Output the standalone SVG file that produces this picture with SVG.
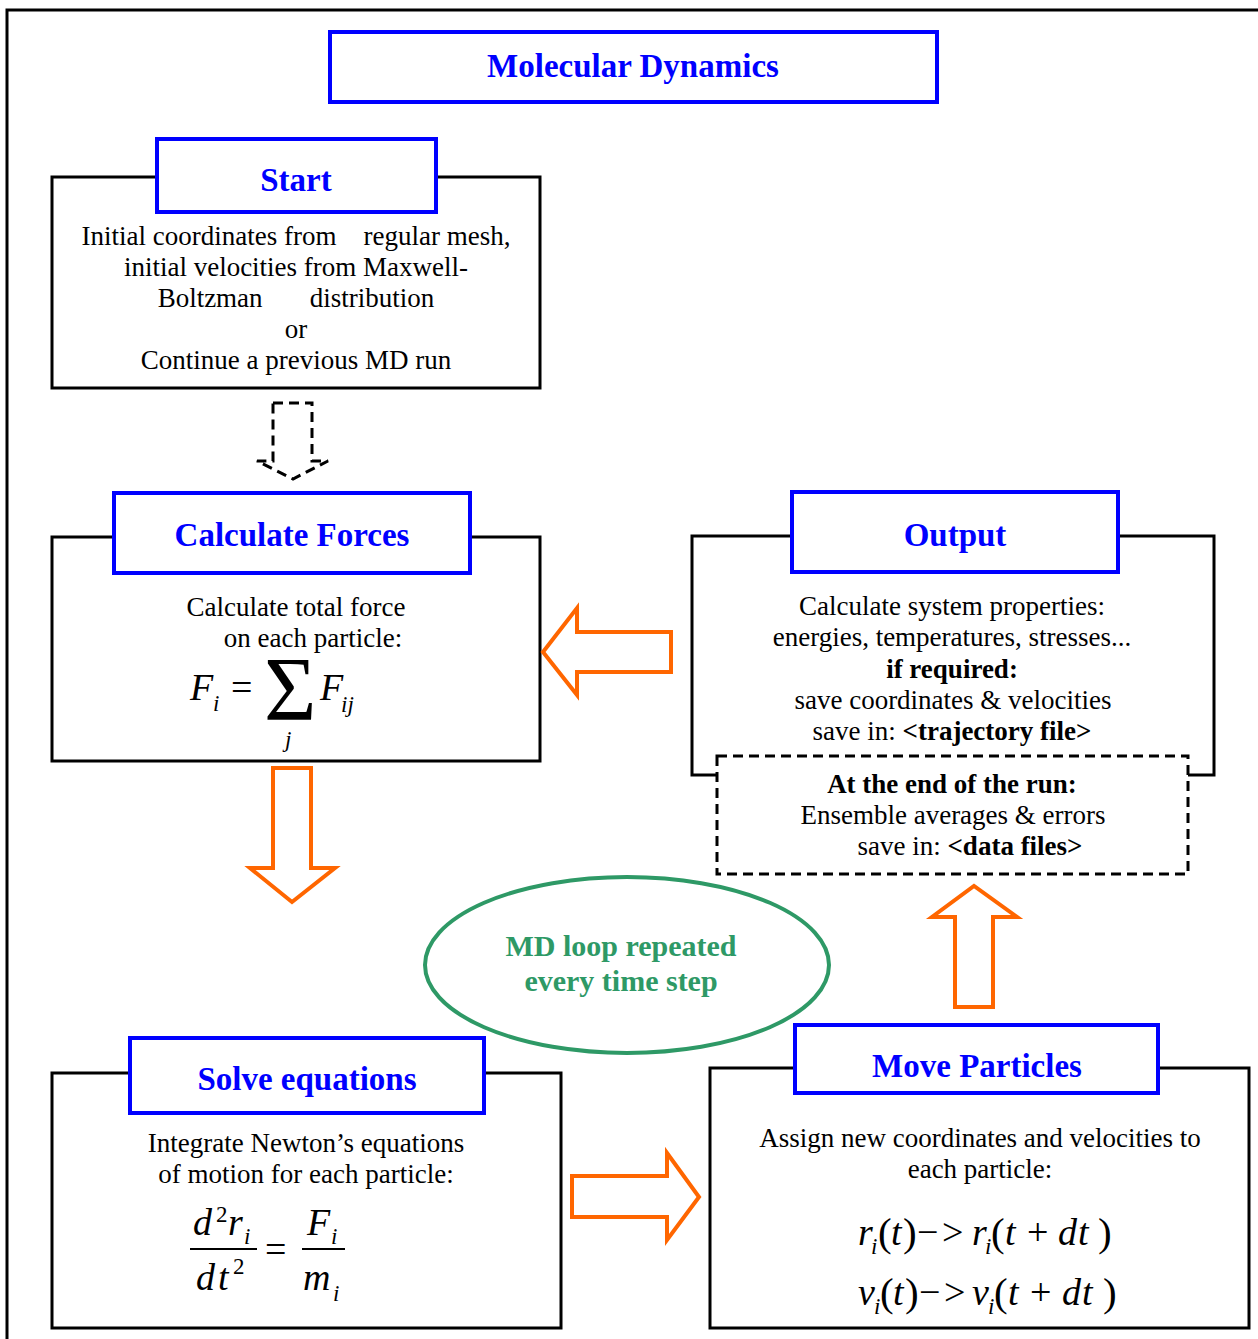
<svg xmlns="http://www.w3.org/2000/svg" width="1258" height="1339" viewBox="0 0 1258 1339">
<style>
text{font-family:"Liberation Serif","Times New Roman",serif;fill:#000}
.box{fill:#fff;stroke:#000;stroke-width:3}
.lbl{fill:#fff;stroke:#0000FF;stroke-width:4}
.h{font-size:33px;font-weight:bold;fill:#0000FF;text-anchor:middle}
.t{font-size:27px;text-anchor:middle}
.b{font-weight:bold}
.arr{fill:#fff;stroke:#FF6600;stroke-width:4;stroke-linejoin:miter}
.dash{fill:#fff;stroke:#000;stroke-width:3;stroke-dasharray:10 6}
.mi{font-size:38px;font-style:italic}
.mr{font-size:38px}
.mp{font-size:41px}
.ms{font-size:23px;font-style:italic}
.frac{stroke:#000;stroke-width:2}
.g{font-size:30px;font-weight:bold;fill:#2E9966;text-anchor:middle}
</style>
<rect width="1258" height="1339" fill="#fff"/>
<path d="M7,1339 V10 H1258" fill="none" stroke="#000" stroke-width="3"/>

<g id="title">
<rect class="lbl" x="330" y="32" width="607" height="70"/>
<text class="h" x="633" y="77">Molecular Dynamics</text>
</g>

<g id="start">
<rect class="box" x="52" y="177" width="488" height="211"/>
<rect class="lbl" x="157" y="139" width="279" height="73"/>
<text class="h" x="296" y="191">Start</text>
<text class="t" x="296" y="245" xml:space="preserve">Initial coordinates from    regular mesh,</text>
<text class="t" x="296" y="276">initial velocities from Maxwell-</text>
<text class="t" x="296" y="307" xml:space="preserve">Boltzman       distribution</text>
<text class="t" x="296" y="338">or</text>
<text class="t" x="296" y="369">Continue a previous MD run</text>
</g>

<g id="forces">
<rect class="box" x="52" y="537" width="488" height="224"/>
<rect class="lbl" x="114" y="493" width="356" height="80"/>
<text class="h" x="292" y="546">Calculate Forces</text>
<text class="t" x="296" y="616">Calculate total force</text>
<text class="t" x="313" y="647">on each particle:</text>
<text class="mi" x="190" y="700">F</text>
<text class="ms" x="213" y="711">i</text>
<text class="mr" x="231" y="700">=</text>
<text x="264" y="720" font-size="90">Σ</text>
<text class="ms" x="285" y="747">j</text>
<text class="mi" x="320" y="700">F</text>
<text class="ms" x="341" y="712">ij</text>
</g>

<g id="output">
<rect class="box" x="692" y="536" width="522" height="239"/>
<rect class="lbl" x="792" y="492" width="326" height="80"/>
<text class="h" x="955" y="546">Output</text>
<text class="t" x="952" y="615">Calculate system properties:</text>
<text class="t" x="952" y="646">energies, temperatures, stresses...</text>
<text class="t b" x="952" y="678">if required:</text>
<text class="t" x="953" y="709">save coordinates &amp; velocities</text>
<text class="t" x="952" y="740">save in: <tspan class="b">&lt;trajectory file&gt;</tspan></text>
</g>

<g id="endrun">
<rect class="dash" x="717" y="756" width="471" height="118"/>
<text class="t b" x="952" y="793">At the end of the run:</text>
<text class="t" x="953" y="824">Ensemble averages &amp; errors</text>
<text class="t" x="970" y="855">save in: <tspan class="b">&lt;data files&gt;</tspan></text>
</g>

<g id="loop">
<ellipse cx="627" cy="965" rx="202" ry="88" fill="none" stroke="#2E9966" stroke-width="4"/>
<text class="g" x="621" y="956">MD loop repeated</text>
<text class="g" x="621" y="991">every time step</text>
</g>

<g id="solve">
<rect class="box" x="52" y="1073" width="509" height="255"/>
<rect class="lbl" x="130" y="1038" width="354" height="75"/>
<text class="h" x="307" y="1090">Solve equations</text>
<text class="t" x="306" y="1152">Integrate Newton’s equations</text>
<text class="t" x="306" y="1183">of motion for each particle:</text>
<text class="mi" x="193" y="1235">d</text>
<text x="216" y="1222" font-size="23">2</text>
<text class="mi" x="228" y="1235">r</text>
<text class="ms" x="244" y="1244">i</text>
<line class="frac" x1="190" y1="1249" x2="257" y2="1249"/>
<text class="mi" x="196" y="1290">d</text>
<text class="mi" x="218" y="1290">t</text>
<text x="233" y="1274" font-size="23">2</text>
<text class="mr" x="265" y="1262">=</text>
<text class="mi" x="307" y="1235">F</text>
<text class="ms" x="331" y="1244">i</text>
<line class="frac" x1="302" y1="1249" x2="345" y2="1249"/>
<text class="mi" x="303" y="1290">m</text>
<text class="ms" x="333" y="1301">i</text>
</g>

<g id="move">
<rect class="box" x="710" y="1068" width="539" height="260"/>
<rect class="lbl" x="795" y="1025" width="363" height="68"/>
<text class="h" x="977" y="1077">Move Particles</text>
<text class="t" x="980" y="1147">Assign new coordinates and velocities to</text>
<text class="t" x="980" y="1178">each particle:</text>
<text class="mi" x="858" y="1245">r</text>
<text class="ms" x="871" y="1254">i</text>
<text class="mp" x="878" y="1246">(</text>
<text class="mi" x="891" y="1245">t</text>
<text class="mp" x="903" y="1246">)</text>
<text class="mr" x="917" y="1245">−</text>
<text class="mr" x="942" y="1245">&gt;</text>
<text class="mi" x="972" y="1245">r</text>
<text class="ms" x="985" y="1254">i</text>
<text class="mp" x="991" y="1246">(</text>
<text class="mi" x="1005" y="1245">t</text>
<text class="mr" x="1027" y="1245">+</text>
<text class="mi" x="1058" y="1245">d</text>
<text class="mi" x="1078" y="1245">t</text>
<text class="mp" x="1098" y="1246">)</text>
<text class="mi" x="858" y="1305">v</text>
<text class="ms" x="874" y="1314">i</text>
<text class="mp" x="880" y="1306">(</text>
<text class="mi" x="893" y="1305">t</text>
<text class="mp" x="905" y="1306">)</text>
<text class="mr" x="919" y="1305">−</text>
<text class="mr" x="944" y="1305">&gt;</text>
<text class="mi" x="972" y="1305">v</text>
<text class="ms" x="988" y="1314">i</text>
<text class="mp" x="994" y="1306">(</text>
<text class="mi" x="1008" y="1305">t</text>
<text class="mr" x="1030" y="1305">+</text>
<text class="mi" x="1062" y="1305">d</text>
<text class="mi" x="1082" y="1305">t</text>
<text class="mp" x="1103" y="1306">)</text>
</g>

<g id="connectors">
<path class="dash" d="M273,403 H312 V461 H328 L293,479 L257,461 H273 Z" fill="none"/>
<path class="arr" d="M671,632 H577 V608 L543,652 L577,695 V672 H671 Z"/>
<path class="arr" d="M273,768 H311 V868 H335 L292,902 L250,868 H273 Z"/>
<path class="arr" d="M955,1007 V917 H932 L974,886 L1017,917 H993 V1007 Z"/>
<path class="arr" d="M572,1176 H667 V1153 L699,1197 L667,1240 V1217 H572 Z"/>
</g>
</svg>
